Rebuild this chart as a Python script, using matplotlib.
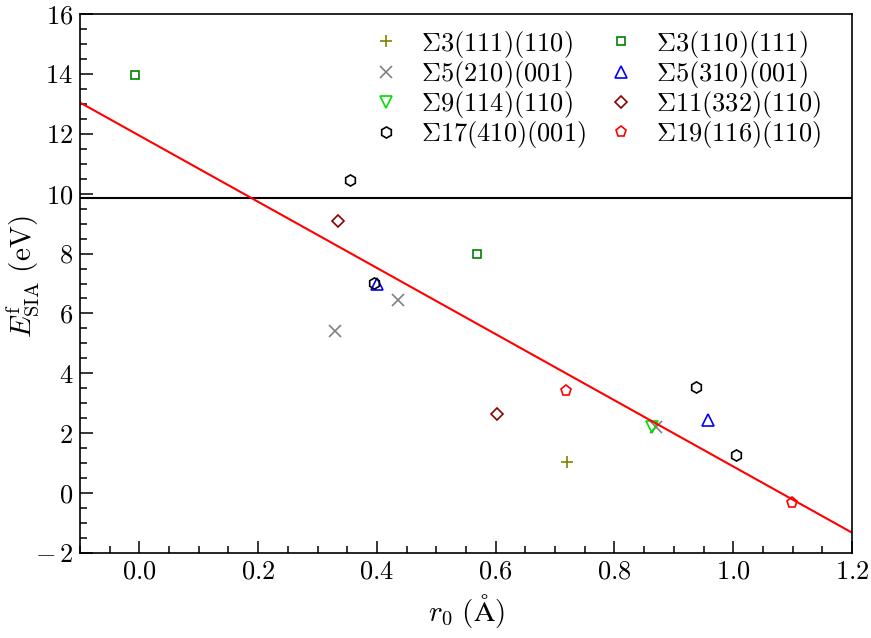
import numpy as np
import matplotlib
matplotlib.use("Agg")
import matplotlib.pyplot as plt
from matplotlib.ticker import MultipleLocator

plt.rcParams['font.family'] = 'serif'
plt.rcParams['font.serif'] = ['cmr10', 'DejaVu Serif']
plt.rcParams['mathtext.fontset'] = 'cm'
plt.rcParams['axes.formatter.use_mathtext'] = True
plt.rcParams['axes.unicode_minus'] = True

# ---- data ----
labels = [r'$\Sigma3(111)(110)$', r'$\Sigma3(110)(111)$',
          r'$\Sigma5(210)(001)$', r'$\Sigma5(310)(001)$',
          r'$\Sigma9(114)(110)$', r'$\Sigma11(332)(110)$',
          r'$\Sigma17(410)(001)$', r'$\Sigma19(116)(110)$']

s3_111_x = [0.720]
s3_111_y = [1.05]
s3_110_x = [-0.008, 0.569]
s3_110_y = [13.97, 7.99]
s5_210_x = [0.330, 0.435, 0.870]
s5_210_y = [5.42, 6.46, 2.20]
s5_310_x = [0.401, 0.957]
s5_310_y = [7.00, 2.43]
s9_114_x = [0.864]
s9_114_y = [2.20]
s11_332_x = [0.335, 0.602]
s11_332_y = [9.10, 2.64]
s17_410_x = [0.354, 0.395, 0.938, 1.005]
s17_410_y = [10.46, 7.03, 3.55, 1.29]
s19_116_x = [0.719, 1.099]
s19_116_y = [3.42, -0.32]

hline_y = 9.85
fit_slope = -11.05
fit_intercept = 11.94

xlim = (-0.1, 1.2)
ylim = (-2, 16)

# ---- plot ----
fig = plt.figure(figsize=(8.71, 6.38), dpi=100)
ax = fig.add_axes([0.0918, 0.1332, 0.8864, 0.8448])

ms = 8
mew = 1.2
series = [
    (s3_111_x, s3_111_y, '+', '#808000', labels[0]),
    (s3_110_x, s3_110_y, 's', '#008000', labels[1]),
    (s5_210_x, s5_210_y, 'x', '#808080', labels[2]),
    (s5_310_x, s5_310_y, '^', '#0000ff', labels[3]),
    (s9_114_x, s9_114_y, 'v', '#00dd00', labels[4]),
    (s11_332_x, s11_332_y, 'D', '#8b0000', labels[5]),
    (s17_410_x, s17_410_y, 'h', '#000000', labels[6]),
    (s19_116_x, s19_116_y, 'p', '#ff0000', labels[7]),
]
handles = []
for xs, ys, m, c, lab in series:
    size = ms - 2 if m in ('D', 's') else ms
    h, = ax.plot(xs, ys, linestyle='none', marker=m, markersize=size,
                 markerfacecolor='none', markeredgecolor=c, markeredgewidth=mew,
                 color=c, label=lab)
    handles.append(h)

ax.axhline(hline_y, color='black', lw=1.5)
xx = np.array(xlim)
ax.plot(xx, fit_intercept + fit_slope * xx, color='red', lw=1.5)

ax.set_xlim(*xlim)
ax.set_ylim(*ylim)
ax.xaxis.set_major_locator(MultipleLocator(0.2))
ax.xaxis.set_minor_locator(MultipleLocator(0.05))
ax.yaxis.set_major_locator(MultipleLocator(2))
ax.yaxis.set_minor_locator(MultipleLocator(0.5))
ax.xaxis.set_major_formatter(matplotlib.ticker.FormatStrFormatter(r'$%.1f$'))
ax.yaxis.set_major_formatter(matplotlib.ticker.FuncFormatter(
    lambda v, p: r'$%d$' % v if v >= 0 else r'$-\,%d$' % abs(v)))
ax.tick_params(which='both', direction='in', top=False, right=False,
               labelsize=19, width=1.1)
ax.tick_params(which='major', length=9, pad=5)
ax.tick_params(which='minor', length=5)
for sp in ax.spines.values():
    sp.set_linewidth(1.2)

ax.set_xlabel(r'$r_0\ (\mathrm{\AA})$', fontsize=21, labelpad=6)
ax.set_ylabel(r'$E^{\mathrm{f}}_{\mathrm{SIA}}\ (\mathrm{eV})$', fontsize=21)
ax.yaxis.set_label_coords(-0.05, 0.512)

order = [0, 2, 4, 6, 1, 3, 5, 7]
ax.legend([handles[i] for i in order], [labels[i] for i in order],
          loc='upper right', bbox_to_anchor=(0.978, 1.0), ncol=2,
          frameon=False, fontsize=19,
          handletextpad=0.6, columnspacing=0.65, labelspacing=-0.03,
          borderaxespad=0.15, handlelength=1.4)

fig.savefig('out.png', dpi=100)
